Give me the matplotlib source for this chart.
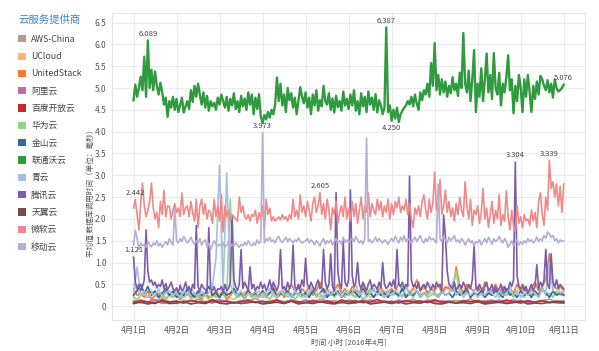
import numpy as np
import matplotlib
matplotlib.use('Agg')
import matplotlib.pyplot as plt
from matplotlib.patches import Patch

plt.rcParams['font.family'] = ['Noto Sans CJK SC', 'DejaVu Sans']

# hourly values, 4月1日 00:00 -> 4月11日 00:00
LIANTONG = [
    4.72, 5.08, 4.80, 5.00, 5.26, 4.95, 5.72, 4.80, 6.089, 5.00, 5.42, 4.95, 5.38, 5.05, 4.85, 5.12, 4.90, 4.62, 4.78, 4.34, 4.70, 4.55, 4.80, 4.50,
    4.75, 4.45, 4.62, 4.78, 4.44, 4.58, 4.70, 4.52, 4.95, 4.68, 5.05, 4.80, 5.10, 4.85, 4.62, 4.90, 4.55, 4.82, 4.48, 4.70, 4.58, 4.66, 4.50, 4.78,
    4.62, 4.85, 4.70, 4.55, 4.80, 4.48, 4.75, 4.60, 4.88, 4.52, 4.70, 4.45, 4.82, 4.58, 4.76, 4.50, 4.90, 4.62, 4.85, 4.40, 4.78, 4.52, 4.86, 4.35,
    4.20, 4.38, 4.28, 4.45, 4.32, 4.50, 4.40, 4.62, 5.24, 4.70, 5.10, 4.60, 4.85, 4.45, 5.00, 4.72, 4.88, 4.55, 4.78, 4.40, 4.70, 5.02, 4.80, 4.65,
    4.90, 4.55, 4.78, 4.40, 4.85, 4.60, 4.95, 4.48, 4.72, 4.58, 5.05, 4.70, 4.62, 4.88, 4.50, 4.76, 4.44, 4.82, 4.56, 4.70, 4.48, 4.92, 4.60, 4.75,
    4.52, 4.85, 4.60, 4.95, 4.48, 4.70, 4.40, 4.88, 4.58, 4.80, 4.45, 4.92, 4.62, 4.78, 4.50, 4.86, 4.44, 4.72, 4.60, 4.40, 4.55, 6.387, 4.45, 4.60,
    4.25, 4.50, 4.30, 4.55, 4.22, 4.40, 4.48, 4.55, 4.60, 4.70, 4.62, 4.80, 4.58, 4.85, 4.65, 4.50, 4.90, 4.72, 4.95, 4.85, 5.10, 4.80, 5.57, 5.05,
    6.03, 4.95, 5.30, 4.85, 5.20, 4.90, 5.15, 4.80, 5.05, 4.88, 5.25, 4.95, 5.10, 4.82, 5.35, 5.00, 6.26, 5.10, 4.90, 5.40, 4.70, 5.20, 5.87, 4.45,
    5.10, 4.80, 5.45, 4.70, 5.20, 5.79, 4.90, 5.30, 4.75, 5.80, 5.00, 4.85, 5.35, 4.60, 5.10, 4.90, 5.25, 5.75, 4.95, 5.20, 4.42, 5.05, 4.70, 5.30,
    5.00, 4.45, 5.20, 4.80, 5.30, 4.90, 4.45, 5.05, 4.75, 5.15, 4.85, 5.28, 5.20, 5.05, 4.95, 5.18, 4.90, 5.10, 4.78, 5.20, 5.00, 4.92, 4.95, 5.00,
    5.076,
]
WEIRUAN = [
    2.25, 2.442, 2.10, 1.75, 2.35, 2.82, 2.30, 2.05, 2.20, 2.40, 2.82, 2.25, 2.00, 2.15, 1.80, 2.40, 2.10, 2.66, 2.05, 2.30, 2.28, 2.00, 2.20, 2.35,
    2.15, 2.25, 2.05, 2.60, 2.10, 2.25, 2.30, 2.05, 2.40, 2.15, 1.95, 2.45, 1.80, 2.30, 2.45, 2.10, 2.35, 2.00, 2.20, 2.15, 1.90, 2.45, 2.05, 2.30,
    1.95, 2.55, 1.70, 2.30, 2.05, 2.20, 1.95, 2.10, 2.05, 2.00, 1.95, 2.50, 2.15, 2.30, 2.05, 2.00, 2.10, 1.95, 2.10, 2.05, 2.20, 1.90, 2.15, 1.98,
    2.30, 1.75, 2.45, 2.10, 2.25, 1.95, 2.05, 1.95, 2.00, 2.05, 1.98, 2.10, 2.00, 2.05, 1.95, 2.10, 2.00, 2.45, 2.05, 2.20, 2.00, 2.55, 2.15, 2.30,
    2.05, 2.40, 2.20, 1.95, 2.35, 2.50, 2.15, 2.30, 2.605, 2.10, 2.35, 2.00, 2.45, 2.20, 1.75, 2.25, 2.10, 2.40, 1.90, 2.15, 2.30, 2.05, 2.50, 2.00,
    2.25, 1.95, 2.40, 2.05, 2.35, 1.90, 2.20, 2.50, 2.00, 2.30, 2.15, 2.60, 2.05, 2.35, 2.20, 2.10, 2.45, 2.20, 2.40, 2.05, 2.30, 2.15, 2.45, 2.00,
    2.35, 2.10, 2.40, 2.25, 2.50, 2.15, 2.30, 2.20, 2.45, 2.10, 2.35, 2.00, 1.80, 2.25, 2.10, 2.30, 2.05, 2.40, 2.55, 2.20, 2.00, 2.45, 2.15, 2.35,
    3.07, 2.20, 2.40, 2.90, 2.10, 2.30, 2.66, 2.15, 2.40, 2.05, 2.25, 1.95, 2.35, 2.10, 2.50, 2.20, 2.05, 2.85, 2.30, 2.00, 2.45, 1.85, 2.20, 2.10,
    2.30, 1.90, 2.15, 2.70, 2.00, 2.25, 1.80, 2.10, 2.40, 1.90, 2.20, 2.00, 2.55, 1.85, 2.10, 1.95, 2.65, 2.05, 1.75, 2.20, 1.85, 1.70, 2.30, 1.90,
    2.05, 1.80, 2.10, 1.95, 2.00, 1.85, 2.20, 1.95, 2.15, 1.80, 2.40, 2.60, 2.10, 1.85, 2.50, 2.20, 3.339, 2.70, 2.85, 2.50, 2.80, 2.30, 2.75, 2.15,
    2.80,
]
YIDONG = [
    1.40, 1.74, 1.55, 1.30, 1.45, 1.38, 1.42, 1.35, 1.48, 1.40, 1.36, 1.45, 1.40, 1.50, 1.38, 1.44, 1.35, 1.42, 1.48, 1.40, 1.55, 1.46, 1.40, 2.25,
    1.50, 1.45, 1.55, 1.48, 1.60, 1.52, 1.45, 1.50, 1.58, 1.48, 1.42, 1.50, 1.45, 1.55, 1.40, 1.48, 1.52, 1.35, 1.45, 1.30, 1.40, 1.50, 1.42, 1.38,
    1.42, 1.38, 1.45, 1.35, 1.40, 1.48, 1.36, 1.42, 1.38, 1.45, 1.40, 1.35, 1.42, 1.38, 1.46, 1.40, 1.50, 1.42, 1.38, 1.45, 1.40, 1.52, 1.44, 1.48,
    3.973, 1.45, 1.55, 1.50, 1.58, 1.48, 1.52, 1.45, 1.55, 1.60, 1.50, 1.46, 1.52, 1.58, 1.48, 1.55, 1.50, 1.45, 1.52, 1.48, 1.56, 1.50, 1.44, 1.48,
    1.50, 1.55, 1.45, 1.52, 1.48, 1.40, 1.50, 1.45, 1.38, 1.48, 1.55, 1.42, 1.50, 1.45, 1.52, 1.40, 1.48, 1.55, 1.45, 1.50, 1.42, 1.58, 1.46, 1.52,
    1.45, 1.50, 1.55, 1.48, 1.60, 1.52, 1.45, 1.50, 1.42, 1.55, 3.85, 1.48, 1.52, 1.45, 1.50, 1.58, 1.48, 1.55, 1.50, 1.45, 1.52, 1.48, 1.42, 1.50,
    1.55, 1.48, 1.60, 1.52, 1.45, 1.58, 1.50, 1.62, 1.48, 1.55, 1.50, 1.45, 1.52, 1.58, 1.48, 1.55, 1.62, 1.50, 1.45, 1.55, 1.48, 1.60, 1.52, 1.55,
    1.50, 1.45, 2.80, 1.55, 1.48, 1.60, 1.52, 1.45, 1.58, 1.50, 1.55, 1.62, 1.48, 1.52, 1.45, 1.55, 1.50, 1.40, 1.48, 1.55, 1.45, 1.50, 1.38, 1.48,
    1.45, 1.52, 1.40, 1.48, 1.55, 1.45, 1.58, 1.50, 1.42, 1.55, 1.48, 1.52, 1.60, 1.50, 1.45, 1.55, 1.48, 1.35, 1.42, 1.50, 1.38, 1.45, 1.52, 1.40,
    1.48, 1.42, 1.50, 1.45, 1.55, 1.48, 1.52, 1.45, 1.50, 1.58, 1.48, 1.55, 1.50, 1.62, 1.55, 1.70, 1.65, 1.58, 1.62, 1.50, 1.55, 1.45, 1.52, 1.48,
    1.50,
]
TENGXUN = [
    1.121, 0.55, 0.40, 0.50, 0.35, 0.45, 0.60, 1.75, 0.80, 0.55, 0.60, 0.48, 0.55, 0.42, 0.50, 0.45, 0.60, 0.40, 0.52, 0.38, 0.45, 0.55, 0.40, 0.35,
    0.42, 0.30, 0.48, 0.35, 0.40, 0.55, 0.38, 0.45, 0.32, 0.50, 0.40, 1.85, 0.45, 0.35, 0.50, 0.42, 0.38, 0.30, 1.80, 0.40, 0.35, 0.45, 0.30, 0.40,
    0.38, 0.45, 0.30, 0.50, 0.35, 0.40, 0.55, 2.10, 0.60, 0.45, 0.35, 0.50, 1.30, 0.40, 0.55, 0.45, 0.35, 0.90, 0.40, 0.50, 0.35, 0.45, 0.40, 0.55,
    0.40, 0.50, 0.35, 0.45, 0.60, 0.40, 0.55, 0.45, 0.35, 0.50, 1.30, 0.40, 0.45, 0.35, 0.55, 0.40, 0.50, 1.40, 0.45, 0.38, 0.50, 0.42, 0.60, 0.45,
    1.10, 0.50, 0.40, 0.55, 0.45, 0.35, 0.50, 0.60, 0.40, 0.45, 1.30, 0.55, 0.40, 0.50, 1.20, 0.45, 0.35, 2.60, 0.80, 0.50, 0.40, 1.50, 0.55, 0.45,
    0.60, 2.66, 0.70, 0.45, 0.55, 1.00, 0.50, 0.40, 0.55, 0.45, 0.35, 0.50, 0.60, 0.40, 0.50, 0.45, 0.38, 0.55, 0.42, 1.00, 0.50, 0.40, 0.45, 0.55,
    0.45, 0.60, 0.40, 1.30, 0.50, 0.45, 0.55, 0.40, 0.50, 0.45, 2.98, 0.60, 0.45, 0.50, 0.40, 0.55, 0.35, 0.45, 0.50, 0.40, 0.55, 0.45, 0.38, 0.50,
    0.40, 0.55, 0.45, 0.50, 0.35, 2.09, 1.60, 0.80, 0.50, 0.45, 0.40, 0.55, 0.35, 0.45, 0.50, 0.40, 0.55, 0.45, 0.35, 0.50, 0.40, 0.60, 1.40, 0.45,
    0.35, 0.50, 0.40, 0.30, 0.45, 0.55, 0.35, 0.40, 0.50, 0.30, 0.45, 0.35, 0.40, 0.50, 0.30, 0.45, 0.35, 0.40, 0.55, 0.45, 0.60, 3.304, 0.70, 0.45,
    0.40, 0.50, 0.35, 0.45, 0.30, 0.40, 0.50, 0.35, 0.45, 0.95, 0.40, 0.55, 0.45, 0.60, 1.30, 0.50, 0.40, 1.20, 0.55, 0.45, 0.60, 0.40, 0.50, 0.45,
    0.40,
]

# two-hourly values
QINGYUN = [
    0.30, 0.90, 0.25, 0.35, 0.20, 0.30, 0.25, 0.40, 0.20, 0.30, 0.35, 0.25,
    0.30, 0.20, 0.35, 0.25, 0.40, 0.30, 0.20, 0.35, 0.25, 0.30, 0.45, 1.10,
    3.23, 0.40, 3.05, 0.50, 0.30, 0.25, 0.35, 0.20, 0.30, 0.25, 0.35, 0.20,
    0.30, 0.25, 0.40, 0.30, 0.20, 0.35, 0.25, 0.30, 0.20, 0.35, 0.25, 0.30,
    0.20, 0.35, 0.45, 0.25, 0.30, 0.20, 0.35, 0.25, 0.40, 0.30, 0.20, 0.35,
    0.25, 0.30, 0.50, 0.25, 0.35, 0.20, 0.30, 0.40, 0.25, 0.35, 0.20, 0.30,
    0.25, 0.35, 0.30, 0.20, 0.45, 0.25, 0.30, 0.35, 0.20, 0.30, 0.25, 0.40,
    0.30, 0.20, 0.35, 0.25, 0.30, 0.55, 0.25, 0.35, 0.20, 0.30, 0.25, 0.35,
    0.20, 0.30, 0.25, 0.40, 0.30, 0.20, 0.35, 0.25, 0.30, 0.45, 0.25, 0.35,
    0.20, 0.30, 0.25, 0.35, 0.30, 0.20, 0.40, 0.30, 1.00, 0.35, 0.60, 0.30,
    0.35,
]
HUAWEI = [
    0.20, 0.15, 0.25, 0.30, 0.20, 0.35, 0.25, 0.20, 0.30, 0.15, 0.25, 0.20,
    0.30, 0.25, 0.20, 0.35, 0.15, 0.25, 0.30, 0.20, 0.25, 0.15, 0.30, 0.20,
    0.25, 0.30, 0.20, 2.45, 0.30, 0.20, 0.25, 0.15, 0.30, 0.20, 0.25, 0.35,
    0.20, 0.25, 0.15, 0.30, 0.20, 0.25, 0.35, 0.20, 0.30, 0.15, 0.25, 0.20,
    0.30, 0.25, 0.40, 0.20, 0.30, 0.15, 0.25, 0.35, 0.20, 0.30, 0.25, 0.20,
    0.35, 0.25, 0.20, 0.30, 0.15, 0.25, 0.40, 0.20, 0.30, 0.25, 0.20, 0.35,
    0.25, 0.30, 0.20, 0.45, 0.25, 0.30, 0.20, 0.35, 0.25, 0.30, 0.20, 0.25,
    0.30, 0.20, 0.35, 0.25, 0.30, 0.40, 0.80, 0.30, 0.25, 0.35, 0.20, 0.30,
    0.25, 0.35, 0.20, 0.30, 0.25, 0.40, 0.20, 0.30, 0.25, 0.35, 0.20, 0.30,
    0.25, 0.20, 0.35, 0.25, 0.30, 0.20, 0.45, 0.25, 0.30, 0.20, 0.35, 0.25,
    0.30,
]
UNITEDSTACK = [
    0.40, 0.25, 0.30, 0.20, 0.35, 0.15, 0.25, 0.30, 0.20, 0.35, 0.25, 0.20,
    0.30, 0.15, 0.25, 0.35, 0.20, 0.30, 0.25, 0.15, 0.30, 0.20, 0.25, 0.35,
    0.20, 0.30, 0.15, 0.25, 0.35, 0.20, 0.30, 0.25, 0.40, 0.20, 0.30, 0.25,
    0.35, 0.20, 0.30, 0.45, 0.25, 0.35, 0.20, 0.30, 0.50, 0.35, 0.25, 0.40,
    0.30, 0.45, 0.25, 0.35, 0.55, 0.30, 0.40, 0.25, 0.35, 0.50, 0.30, 0.40,
    0.25, 0.45, 0.35, 0.30, 0.50, 0.25, 0.40, 0.35, 0.30, 0.45, 0.25, 0.35,
    0.40, 0.30, 0.55, 0.35, 0.45, 0.30, 0.40, 0.60, 0.35, 0.45, 0.30, 0.40,
    0.35, 0.50, 0.30, 0.45, 0.40, 0.35, 0.90, 0.45, 0.30, 0.50, 0.40, 0.35,
    0.45, 0.30, 0.55, 0.40, 0.35, 0.50, 0.30, 0.45, 0.35, 0.40, 0.30, 0.50,
    0.35, 0.45, 0.30, 0.40, 0.55, 0.35, 0.45, 0.60, 1.20, 0.50, 0.40, 0.45,
    0.35,
]
JINSHAN = [
    0.25, 0.35, 0.50, 0.30, 0.45, 0.25, 0.35, 0.20, 0.30, 0.40, 0.25, 0.35,
    0.20, 0.30, 0.25, 0.40, 0.30, 0.20, 0.35, 0.25, 0.30, 0.45, 0.25, 0.30,
    0.20, 0.35, 0.25, 0.30, 0.40, 0.25, 0.30, 0.20, 0.35, 0.25, 0.30, 0.20,
    0.35, 0.25, 0.30, 0.40, 0.20, 0.30, 0.25, 0.35, 0.20, 0.30, 0.45, 0.25,
    0.30, 0.20, 0.35, 0.25, 0.30, 0.40, 0.20, 0.30, 0.25, 0.35, 0.20, 0.30,
    0.25, 0.35, 0.30, 0.20, 0.40, 0.25, 0.30, 0.20, 0.35, 0.25, 0.30, 0.20,
    0.35, 0.30, 0.25, 0.40, 0.20, 0.30, 0.25, 0.35, 0.20, 0.30, 0.25, 0.40,
    0.30, 0.20, 0.35, 0.25, 0.30, 0.20, 0.35, 0.25, 0.30, 0.40, 0.20, 0.30,
    0.25, 0.35, 0.20, 0.30, 0.25, 0.35, 0.30, 0.20, 0.40, 0.25, 0.30, 0.20,
    0.35, 0.25, 0.30, 0.20, 0.35, 0.25, 0.40, 0.30, 0.20, 0.35, 0.25, 0.30,
    0.25,
]

# four-hourly values
AWS = [
    0.10, 0.15, 0.08, 0.12, 0.18, 0.10, 0.06, 0.14, 0.10, 0.16, 0.08, 0.12,
    0.15, 0.10, 0.07, 0.13, 0.10, 0.18, 0.08, 0.12, 0.14, 0.09, 0.15, 0.10,
    0.12, 0.08, 0.16, 0.10, 0.13, 0.07, 0.14, 0.11, 0.09, 0.15, 0.10, 0.12,
    0.08, 0.14, 0.10, 0.16, 0.09, 0.12, 0.15, 0.08, 0.11, 0.13, 0.10, 0.17,
    0.09, 0.12, 0.14, 0.08, 0.11, 0.15, 0.10, 0.13, 0.09, 0.12, 0.16, 0.10,
    0.12,
]
UCLOUD = [
    0.50, 0.25, 0.20, 0.30, 0.15, 0.25, 0.35, 0.20, 0.30, 0.18, 0.25, 0.20,
    0.30, 0.22, 0.15, 0.28, 0.35, 0.20, 0.25, 0.30, 0.18, 0.40, 0.22, 0.30,
    0.25, 0.35, 0.20, 0.28, 0.32, 0.22, 0.30, 0.25, 0.38, 0.20, 0.28, 0.35,
    0.25, 0.30, 0.22, 0.40, 0.28, 0.33, 0.25, 0.30, 0.45, 0.28, 0.35, 0.25,
    0.30, 0.22, 0.35, 0.28, 0.25, 0.32, 0.40, 0.30, 0.25, 0.35, 0.28, 0.30,
    0.25,
]
ALI = [
    0.12, 0.08, 0.10, 0.15, 0.06, 0.10, 0.12, 0.08, 0.14, 0.09, 0.11, 0.07,
    0.13, 0.10, 0.08, 0.12, 0.15, 0.09, 0.11, 0.07, 0.13, 0.10, 0.12, 0.08,
    0.14, 0.09, 0.11, 0.13, 0.08, 0.10, 0.12, 0.07, 0.15, 0.10, 0.09, 0.12,
    0.08, 0.13, 0.10, 0.11, 0.07, 0.14, 0.09, 0.12, 0.10, 0.08, 0.13, 0.11,
    0.09, 0.12, 0.10, 0.14, 0.08, 0.11, 0.13, 0.09, 0.10, 0.12, 0.08, 0.11,
    0.10,
]
BAIDU = [
    0.08, 0.12, 0.10, 0.06, 0.14, 0.09, 0.11, 0.07, 0.13, 0.10, 0.08, 0.15,
    0.09, 0.12, 0.07, 0.10, 0.13, 0.08, 0.11, 0.09, 0.14, 0.07, 0.12, 0.10,
    0.08, 0.13, 0.09, 0.11, 0.07, 0.14, 0.10, 0.12, 0.08, 0.10, 0.15, 0.09,
    0.11, 0.07, 0.13, 0.10, 0.12, 0.08, 0.14, 0.09, 0.11, 0.07, 0.12, 0.10,
    0.13, 0.08, 0.11, 0.09, 0.14, 0.10, 0.07, 0.12, 0.09, 0.13, 0.08, 0.11,
    0.10,
]
TIANYI = [
    0.06, 0.09, 0.05, 0.08, 0.11, 0.06, 0.07, 0.10, 0.05, 0.08, 0.06, 0.12,
    0.07, 0.05, 0.09, 0.06, 0.08, 0.10, 0.05, 0.07, 0.09, 0.06, 0.11, 0.05,
    0.08, 0.06, 0.10, 0.07, 0.05, 0.09, 0.06, 0.08, 0.12, 0.05, 0.07, 0.09,
    0.06, 0.10, 0.05, 0.08, 0.07, 0.11, 0.06, 0.05, 0.09, 0.07, 0.08, 0.06,
    0.10, 0.05, 0.07, 0.09, 0.06, 0.08, 0.11, 0.05, 0.07, 0.06, 0.09, 0.08,
    0.07,
]

PROVIDERS = ['AWS-China', 'UCloud', 'UnitedStack', '阿里云', '百度开放云', '华为云', '金山云',
             '联通沃云', '青云', '腾讯云', '天翼云', '微软云', '移动云']
SERIES = [AWS, UCLOUD, UNITEDSTACK, ALI, BAIDU, HUAWEI, JINSHAN,
          LIANTONG, QINGYUN, TENGXUN, TIANYI, WEIRUAN, YIDONG]
COLORS = ['#b39a94', '#f7b77c', '#f27d30', '#c46aae', '#c9282d', '#93d48a', '#2c6c9f',
          '#2f9b3e', '#a3c0e0', '#7d5cac', '#7b4c44', '#f08a88', '#b8acd2']

DAY_LABELS = ['4月%d日' % d for d in range(1, 12)]

# values that carry a number label in the chart
LABELS = [('联通沃云', 6.089, 'above'), ('联通沃云', 6.387, 'above'), ('联通沃云', 4.250, 'below'),
          ('联通沃云', 5.076, 'above'), ('移动云', 3.973, 'above'), ('微软云', 2.442, 'above'),
          ('腾讯云', 1.121, 'above'), ('微软云', 2.605, 'above'), ('腾讯云', 3.304, 'above'),
          ('微软云', 3.339, 'above')]

fig = plt.figure(figsize=(5.99, 3.51), dpi=100)
ax = fig.add_axes([0.187, 0.088, 0.79, 0.875])

xs = {}
for name, vals, c in zip(PROVIDERS, SERIES, COLORS):
    x = np.linspace(0, len(DAY_LABELS) - 1, len(vals))
    xs[name] = x
    lw = 1.7 if name == '联通沃云' else 1.2
    ax.plot(x, vals, color=c, lw=lw, zorder=3)

for name, v, pos in LABELS:
    vals = np.array(SERIES[PROVIDERS.index(name)])
    i = int(np.argmin(np.abs(vals - v)))
    off = 2 if pos == 'above' else -2
    ax.annotate('%.3f' % v, (xs[name][i], vals[i]), xytext=(0, off), textcoords='offset points',
                ha='center', va='bottom' if pos == 'above' else 'top',
                fontsize=5.5, color='#444444', zorder=5)

ax.set_xlim(-0.5, 10.5)
ax.set_ylim(-0.32, 6.72)
ax.set_xticks(range(len(DAY_LABELS)))
ax.set_xticklabels(DAY_LABELS)
ax.set_yticks(np.arange(0, 6.51, 0.5))
ax.set_yticklabels(['0'] + ['%.1f' % t for t in np.arange(0.5, 6.51, 0.5)])
ax.tick_params(length=0, labelsize=6, colors='#555555', pad=4)
ax.grid(True, color='#ebebeb', lw=0.8, zorder=0)
ax.set_axisbelow(True)
for s in ax.spines.values():
    s.set_color('#e6e6e6')
    s.set_linewidth(0.8)

ax.set_xlabel('时间 小时 [2016年4月]', fontsize=5.5, color='#555555', labelpad=3)
ax.set_ylabel('平均值 数据库调用时间（单位：毫秒）', fontsize=5.5, color='#555555', labelpad=3)
ax.yaxis.set_label_coords(-0.037, 0.42)

handles = [Patch(facecolor=c, edgecolor='none') for c in COLORS]
leg = fig.legend(handles, PROVIDERS, loc='upper left', bbox_to_anchor=(0.02, 0.975),
                 frameon=False, title='云服务提供商', alignment='left',
                 handlelength=0.9, handleheight=0.9, handletextpad=0.6,
                 labelspacing=0.95, fontsize=6.3, title_fontsize=7.5, borderpad=0.2)
leg.get_title().set_color('#3f84c6')
leg._legend_box.sep = 7
for t in leg.get_texts():
    t.set_color('#444444')

fig.savefig('out.png', dpi=100)
